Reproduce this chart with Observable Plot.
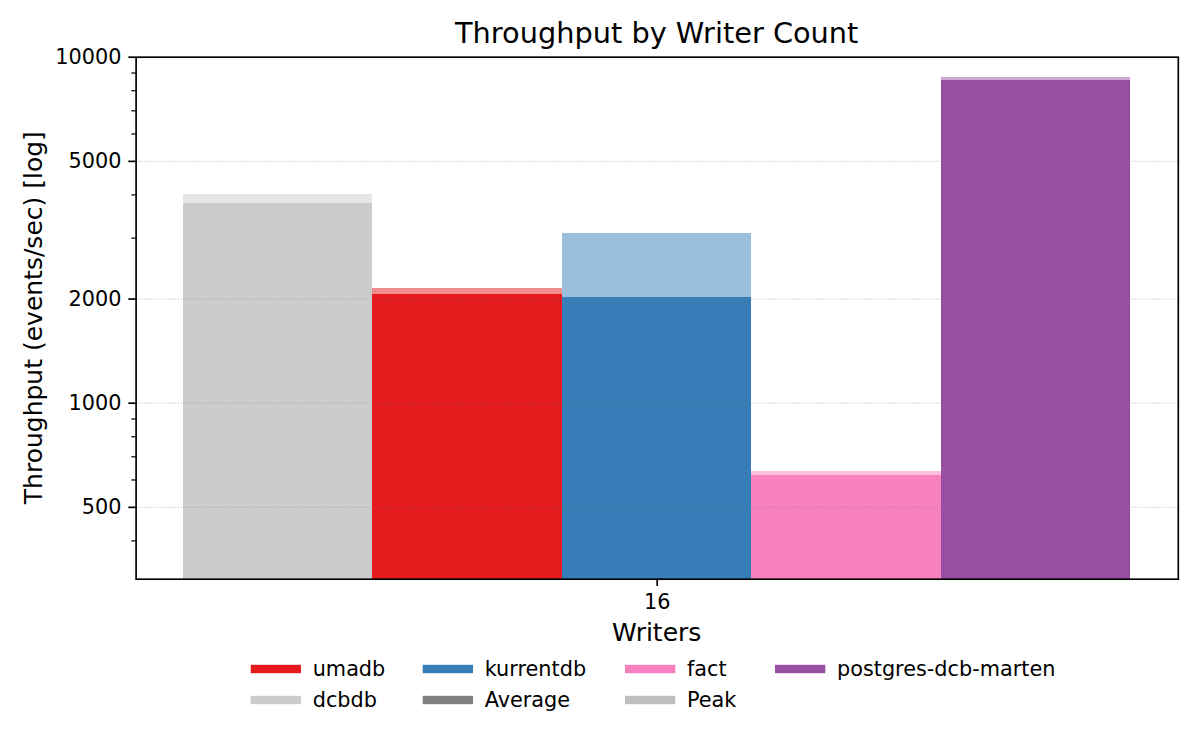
<!DOCTYPE html>
<html><head><meta charset="utf-8">
<script src="https://cdn.jsdelivr.net/npm/d3@7"></script>
<script src="https://cdn.jsdelivr.net/npm/@observablehq/plot@0.6"></script>
<style>
body{margin:0;background:#fff;}
#chart{width:1200px;height:750px;}
svg text{font-family:"DejaVu Sans";}
</style>
</head><body><div id="chart"></div>
<script>
// ---- data ----
const writers = [16];
const systems = ["dcbdb", "umadb", "kurrentdb", "fact", "postgres-dcb-marten"];
const avgThroughput = [3777, 2062, 2021, 619, 8580];
const peakThroughput = [4011, 2146, 3094, 635, 8736];
const systemColors = ["#cccccc", "#e41a1c", "#377eb8", "#f781bf", "#984ea3"];
const majorTicks = [500, 1000, 2000, 5000, 10000];
const minorTicks = [400, 600, 700, 800, 900, 3000, 4000, 6000, 7000, 8000, 9000];
const legendRow1 = ["umadb", "kurrentdb", "fact", "postgres-dcb-marten"];
const legendRow1Colors = ["#e41a1c", "#377eb8", "#f781bf", "#984ea3"];
const legendRow2 = ["dcbdb", "Average", "Peak"];
const legendRow2Colors = ["#cccccc", "#808080", "#bfbfbf"];

const yMin = 310, yMax = 10000;
const groupWidth = 0.8;
const n = systems.length;
const barW = groupWidth / n;
const rows = [];
writers.forEach((w, g) => {
  systems.forEach((s, i) => {
    rows.push({
      system: s,
      avg: avgThroughput[i],
      peak: peakThroughput[i],
      x1: g + (i - n / 2) * barW,
      x2: g + (i - n / 2 + 1) * barW
    });
  });
});

const plot = Plot.plot({
  width: 1200,
  height: 750,
  marginLeft: 135.6,
  marginRight: 22.2,
  marginTop: 56.7,
  marginBottom: 171.3,
  style: {fontFamily: "DejaVu Sans", fontSize: "20.8px", color: "#000", background: "#fff", overflow: "visible"},
  x: {type: "linear", domain: [-0.44, writers.length - 1 + 0.44]},
  y: {type: "log", domain: [yMin, yMax]},
  color: {domain: systems, range: systemColors},
  marks: [
    Plot.rect(rows, {x1: "x1", x2: "x2", y1: () => yMin, y2: "peak", fill: "system", fillOpacity: 0.5, shapeRendering: "crispEdges"}),
    Plot.rect(rows, {x1: "x1", x2: "x2", y1: () => yMin, y2: "avg", fill: "system", shapeRendering: "crispEdges"}),
    Plot.ruleY(majorTicks, {stroke: "#808080", strokeOpacity: 0.4, strokeWidth: 1.2, strokeDasharray: "1.2,1.8"}),
    Plot.axisY({ticks: minorTicks, tickSize: 4.2, text: null, strokeWidth: 1.25, label: null, stroke: "#000"}),
    Plot.axisY({ticks: majorTicks, tickSize: 7.3, tickPadding: 7.3, tickFormat: d => String(d), strokeWidth: 1.67, label: null, fontSize: 20.8, stroke: "#000", fill: "#000"}),
    Plot.axisX({ticks: writers.map((_, g) => g), tickFormat: g => String(writers[g]), tickSize: 7.3, tickPadding: 7.3, strokeWidth: 1.67, label: null, fontSize: 20.8, stroke: "#000", fill: "#000"}),
    Plot.frame({stroke: "#000", strokeWidth: 1.67})
  ]
});

document.getElementById("chart").appendChild(plot);

// ---- title, axis labels, legend ----
const svg = d3.select(plot);
const xr = plot.scale("x").range;
const yr = plot.scale("y").range;
const cx = (xr[0] + xr[1]) / 2;
const cy = (yr[0] + yr[1]) / 2;

svg.append("text").attr("x", cx).attr("y", 43.3).attr("text-anchor", "middle")
  .style("font-size", "28.8px").attr("fill", "#000").text("Throughput by Writer Count");
svg.append("text").attr("x", cx).attr("y", 641).attr("text-anchor", "middle")
  .style("font-size", "25px").attr("fill", "#000").text("Writers");
svg.append("text").attr("transform", `translate(42.2,${cy}) rotate(-90)`).attr("text-anchor", "middle")
  .style("font-size", "25px").attr("fill", "#000").text("Throughput (events/sec) [log]");

const colX = [250.7, 422.7, 625, 775];
const rowY = [669, 700];
function legendRow(labels, colors, r) {
  labels.forEach((lab, c) => {
    const g = svg.append("g");
    g.append("rect").attr("x", colX[c]).attr("y", rowY[r] - 4.2).attr("width", 50.3).attr("height", 8.4).attr("fill", colors[c]);
    g.append("text").attr("x", colX[c] + 62).attr("y", rowY[r] + 6.6).attr("text-anchor", "start")
      .style("font-size", "20.8px").attr("fill", "#000").text(lab);
  });
}
legendRow(legendRow1, legendRow1Colors, 0);
legendRow(legendRow2, legendRow2Colors, 1);
</script>
</body></html>
